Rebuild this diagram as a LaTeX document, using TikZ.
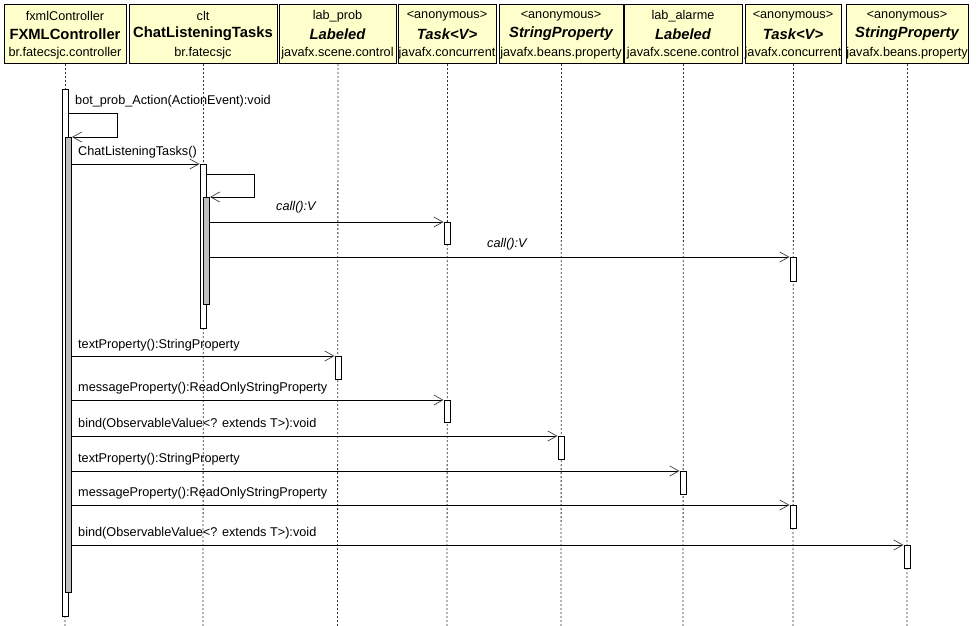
\documentclass[tikz,border=0pt]{standalone}
\usepackage{fontspec}
\setmainfont{Liberation Sans}
\usetikzlibrary{arrows.meta}

\definecolor{objfill}{RGB}{255,255,204}
\definecolor{actgray}{RGB}{192,192,192}
\definecolor{tipgray}{RGB}{60,60,60}

\newcommand{\txtfont}{\fontsize{12.7}{15}\selectfont}
\newcommand{\clsfont}{\fontsize{14.8}{17}\selectfont\bfseries}

\tikzset{
  objbox/.style={draw=black, fill=objfill, line width=1pt, inner sep=0pt,
    minimum height=59pt, anchor=north west},
  objline/.style={inner sep=0pt, font=\txtfont},
  clsline/.style={inner sep=0pt, font=\clsfont},
  lifeline/.style={draw=black!80, line width=0.8pt, dash pattern=on 2pt off 2pt},
  actbar/.style={draw=black, fill=white, line width=1pt, inner sep=0pt,
    minimum width=6pt, anchor=north},
  innerbar/.style={actbar, fill=actgray, anchor=north west},
  msg/.style={draw=black, line width=1pt,
    -{Straight Barb[length=9pt,width=10pt,line width=0.7pt,color=tipgray]}},
  msglabel/.style={anchor=west, inner sep=0pt, font=\txtfont},
}

\begin{document}
\begin{tikzpicture}[x=1pt, y=-1pt]
\useasboundingbox (0,0) rectangle (977,626);

% object boxes of the lifelines
\node[objbox, minimum width=122pt] (o1) at (4,4) {};
\node[objbox, minimum width=148pt] (o2) at (129,4) {};
\node[objbox, minimum width=117pt] (o3) at (279,4) {};
\node[objbox, minimum width=98pt]  (o4) at (398,4) {};
\node[objbox, minimum width=124pt] (o5) at (499,4) {};
\node[objbox, minimum width=118pt] (o6) at (624,4) {};
\node[objbox, minimum width=96pt]  (o7) at (745,4) {};
\node[objbox, minimum width=122pt] (o8) at (846,4) {};

% object names, classes and packages
\node[objline] (n1) at (65,16) {fxmlController};
\node[clsline] (k1) at (65,34) {FXMLController};
\node[objline] (p1) at (65,53) {br.fatecsjc.controller};

\node[objline] (n2) at (203,16) {clt};
\node[clsline] (k2) at (203,34) {ChatListeningTasks};
\node[objline] (p2) at (203,53) {br.fatecsjc};

\node[objline] (n3) at (337.5,16) {lab\_prob};
\node[clsline] (k3) at (337.5,34) {\itshape Labeled};
\node[objline] (p3) at (337.5,53) {javafx.scene.control};

\node[objline] (n4) at (447,16) {<anonymous>};
\node[clsline] (k4) at (447,34) {\itshape Task<V>};
\node[objline] (p4) at (447,53) {javafx.concurrent};

\node[objline] (n5) at (561,16) {<anonymous>};
\node[clsline] (k5) at (561,34) {\itshape StringProperty};
\node[objline] (p5) at (561,53) {javafx.beans.property};

\node[objline] (n6) at (683,16) {lab\_alarme};
\node[clsline] (k6) at (683,34) {\itshape Labeled};
\node[objline] (p6) at (683,53) {javafx.scene.control};

\node[objline] (n7) at (793,16) {<anonymous>};
\node[clsline] (k7) at (793,34) {\itshape Task<V>};
\node[objline] (p7) at (793,53) {javafx.concurrent};

\node[objline] (n8) at (907,16) {<anonymous>};
\node[clsline] (k8) at (907,34) {\itshape StringProperty};
\node[objline] (p8) at (907,53) {javafx.beans.property};

% lifeline ends
\coordinate (e1) at (65,626);
\coordinate (e2) at (203,626);
\coordinate (e3) at (337.5,626);
\coordinate (e4) at (447,626);
\coordinate (e5) at (561,626);
\coordinate (e6) at (683,626);
\coordinate (e7) at (793,626);
\coordinate (e8) at (907,626);

\draw[lifeline] (o1.south) -- (e1);
\draw[lifeline] (o2.south) -- (e2);
\draw[lifeline] (o3.south) -- (e3);
\draw[lifeline] (o4.south) -- (e4);
\draw[lifeline] (o5.south) -- (e5);
\draw[lifeline] (o6.south) -- (e6);
\draw[lifeline] (o7.south) -- (e7);
\draw[lifeline] (o8.south) -- (e8);

% activations of the controller
\node[actbar, minimum height=527pt] (a1) at (65,89) {};
\node[innerbar, minimum height=455pt] (g1) at (65,137) {};
\draw[msg] ([yshift=-24pt]a1.north east) -- ++(49pt,0) |- (g1.north east);
\node[msglabel] (l1) at (75,101) {bot\_prob\_Action(ActionEvent):void};

% activations of clt
\node[actbar, minimum height=164pt] (a2) at (203,164) {};
\node[innerbar, minimum height=107pt] (g2) at (203,197) {};
\draw[msg] (g1.east |- a2.north west) -- (a2.north west);
\node[msglabel] (l2) at (78,152) {ChatListeningTasks()};
\draw[msg] ([yshift=-10pt]a2.north east) -- ++(48pt,0) |- (g2.north east);

% the two tasks
\node[actbar, minimum height=22pt] (c4) at (447,222) {};
\draw[msg] (g2.east |- c4.north west) -- (c4.north west);
\node[msglabel] (l3) at (276,207) {\itshape call():V};

\node[actbar, minimum height=24pt] (c7) at (793,257) {};
\draw[msg] (g2.east |- c7.north west) -- (c7.north west);
\node[msglabel] (l4) at (487,244) {\itshape call():V};

% property calls from the controller
\node[actbar, minimum height=23pt] (t3) at (338,356) {};
\draw[msg] (g1.east |- t3.north west) -- (t3.north west);
\node[msglabel] (l5) at (78,345) {textProperty():StringProperty};

\node[actbar, minimum height=22pt] (m4) at (447,400) {};
\draw[msg] (g1.east |- m4.north west) -- (m4.north west);
\node[msglabel] (l6) at (78,388) {messageProperty():ReadOnlyStringProperty};

\node[actbar, minimum height=23pt] (b5) at (561,436) {};
\draw[msg] (g1.east |- b5.north west) -- (b5.north west);
\node[msglabel] (l7) at (78,424) {bind(ObservableValue<? extends T>):void};

\node[actbar, minimum height=23pt] (t6) at (683,471) {};
\draw[msg] (g1.east |- t6.north west) -- (t6.north west);
\node[msglabel] (l8) at (78,459) {textProperty():StringProperty};

\node[actbar, minimum height=23pt] (m7) at (793,505) {};
\draw[msg] (g1.east |- m7.north west) -- (m7.north west);
\node[msglabel] (l9) at (78,493) {messageProperty():ReadOnlyStringProperty};

\node[actbar, minimum height=23pt] (b8) at (907,545) {};
\draw[msg] (g1.east |- b8.north west) -- (b8.north west);
\node[msglabel] (l10) at (78,533) {bind(ObservableValue<? extends T>):void};
\end{tikzpicture}
\end{document}
